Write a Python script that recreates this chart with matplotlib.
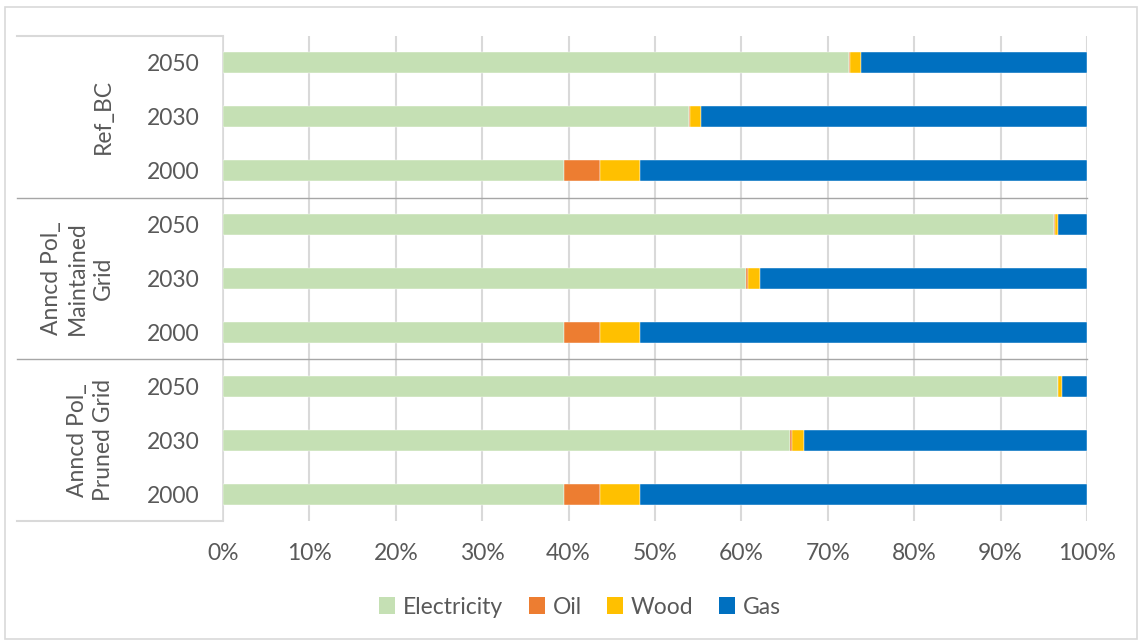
import numpy as np
import matplotlib.pyplot as plt
from matplotlib.patches import Patch, Rectangle
from matplotlib.lines import Line2D
from matplotlib.transforms import blended_transform_factory

plt.rcParams['font.family'] = ['Lato', 'DejaVu Sans']

# rows top to bottom
scenarios = ['Ref_BC', 'Anncd Pol_\nMaintained\nGrid', 'Anncd Pol_\nPruned Grid']
years = ['2050', '2030', '2000']
row_labels = years * 3

fuels = ['Electricity', 'Oil', 'Wood', 'Gas']
electricity = [72.5, 53.9, 39.5, 96.2, 60.5, 39.5, 96.6, 65.6, 39.5]
oil = [0.1, 0.2, 4.1, 0.05, 0.3, 4.1, 0.05, 0.2, 4.1]
wood = [1.2, 1.2, 4.7, 0.4, 1.3, 4.7, 0.5, 1.5, 4.7]
gas = [26.2, 44.7, 51.7, 3.35, 37.9, 51.7, 2.85, 32.7, 51.7]
colors = ['#C5E0B4', '#ED7D31', '#FFC000', '#0070C0']

W, H = 1138, 641
fig = plt.figure(figsize=(W / 100, H / 100), dpi=100)
ax = fig.add_axes([223 / W, 1 - 521 / H, (1087 - 223) / W, (521 - 36) / H])

txt = '#595959'
grid = '#D9D9D9'
fs = 16.5

y = np.arange(len(row_labels))
left = np.zeros(len(row_labels))
for name, vals, c in zip(fuels, [electricity, oil, wood, gas], colors):
    vals = np.array(vals)
    ax.barh(y, vals, left=left, height=0.39, color=c, label=name,
            edgecolor='white', linewidth=0.3, zorder=3)
    left += vals

ax.set_ylim(len(row_labels) - 0.5, -0.5)
ax.set_xlim(0, 100)
ax.set_xticks(np.arange(0, 101, 10))
ax.set_xticklabels([f'{v}%' for v in range(0, 101, 10)])
ax.set_yticks(y)
ax.set_yticklabels(row_labels)
ax.tick_params(axis='both', length=0, labelsize=fs, colors=txt)
ax.tick_params(axis='x', pad=16)
ax.tick_params(axis='y', pad=17)
ax.grid(axis='x', color=grid, linewidth=1.5, zorder=0)
for s in ['top', 'right', 'bottom']:
    ax.spines[s].set_visible(False)
ax.spines['left'].set_color(grid)
ax.spines['left'].set_linewidth(1.2)

# category box on the left of the axis
fx = fig.transFigure
box_x0 = 17 / W
ax_x0 = 223 / W
for yy in [1 - 36 / H, 1 - 521 / H]:
    fig.add_artist(Line2D([box_x0, ax_x0], [yy, yy], transform=fx,
                          color=grid, linewidth=1.5))

# group separators across the plot
sep = blended_transform_factory(fx, ax.transData)
for yy in [2.5, 5.5]:
    fig.add_artist(Line2D([box_x0, 1087 / W], [yy, yy], transform=sep,
                          color='#A6A6A6', linewidth=1.0, zorder=5))

# group labels
for label, yc in zip(scenarios, [1, 4, 7]):
    fig.text(114 / W, yc, label, transform=sep, rotation=90, ha='right',
             va='center', multialignment='center', fontsize=fs, color=txt,
             linespacing=1.3)

# outer chart border
fig.add_artist(Rectangle((5 / W, 1 - 639 / H), 1132 / W, 632 / H,
                         transform=fx, fill=False, edgecolor=grid,
                         linewidth=1.2))

handles = [Patch(facecolor=c, label=n) for n, c in zip(fuels, colors)]
fig.legend(handles=handles, loc='center', bbox_to_anchor=(580 / W, 1 - 607 / H),
           ncol=4, frameon=False, fontsize=fs, labelcolor=txt,
           handlelength=0.7, handleheight=0.7, handletextpad=0.35,
           columnspacing=1.1)

fig.savefig('out.png', dpi=100)
